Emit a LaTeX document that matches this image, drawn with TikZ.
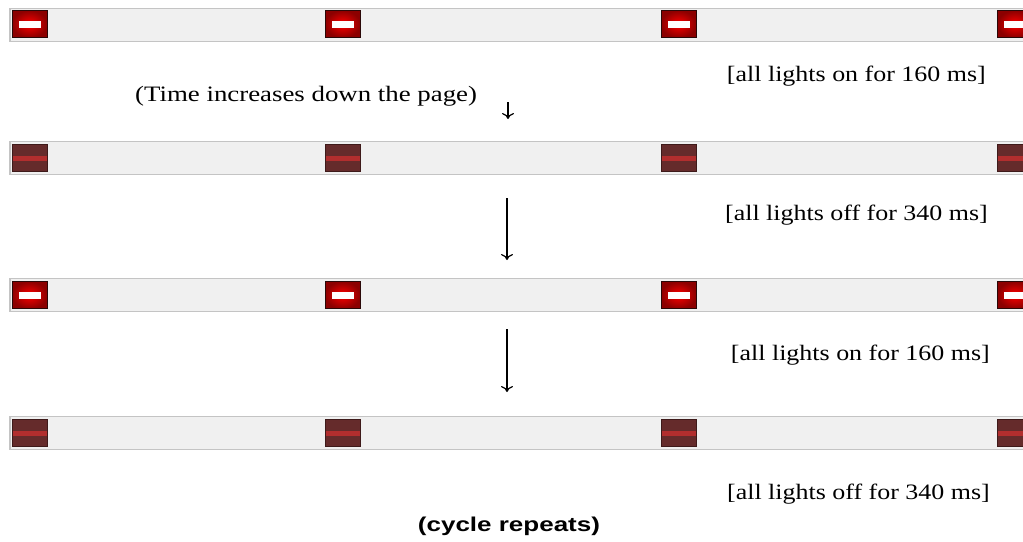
\documentclass[tikz,border=0pt]{standalone}
\usepackage{fontspec}
\setmainfont{Liberation Serif}
\setsansfont{Liberation Sans}
\usetikzlibrary{arrows.meta}
\definecolor{stripfill}{HTML}{F0F0F0}
\definecolor{stripedge}{HTML}{C4C4C4}
\definecolor{offfill}{HTML}{652B2B}
\definecolor{offedge}{HTML}{3E1A1A}
\definecolor{offline}{HTML}{B22E2E}
\definecolor{onedge}{HTML}{2A0808}
\newcommand{\wide}[2]{\scalebox{#1}[1]{#2}}
\tikzset{
  strip/.style={draw=stripedge, line width=1.2pt, fill=stripfill, minimum width=1040pt, minimum height=33pt, inner sep=0pt},
  lighton/.style={draw=onedge, line width=1pt, minimum width=35pt, minimum height=27pt, inner sep=0pt,
    inner color=red, outer color=red!55!black,
    path picture={\fill[white] (path picture bounding box.center) ++(-11pt,-3.5pt) rectangle ++(22pt,7pt);}},
  lightoff/.style={draw=offedge, line width=1pt, fill=offfill, minimum width=35pt, minimum height=27pt, inner sep=0pt,
    path picture={\fill[offline] (path picture bounding box.center) ++(-17.5pt,-2.5pt) rectangle ++(35pt,5pt);}},
  lbl/.style={font=\fontsize{22}{24}\selectfont, inner sep=0pt},
  timearrow/.style={line width=1.2pt, -{To[length=6pt,width=12pt]}}
}
\begin{document}
\begin{tikzpicture}[x=1pt,y=-1pt]
\useasboundingbox (0,0) rectangle (1023,541);
% strips
\node[strip] (s1) at (530,25) {};
\node[strip] (s2) at (530,158) {};
\node[strip] (s3) at (530,295) {};
\node[strip] (s4) at (530,433) {};
% row 1 (on)
\node[lighton] (a1) at (29.5,24) {};
\node[lighton] (a2) at (342.5,24) {};
\node[lighton] (a3) at (678.5,24) {};
\node[lighton] (a4) at (1015,24) {};
% row 2 (off)
\node[lightoff] (b1) at (29.5,158) {};
\node[lightoff] (b2) at (342.5,158) {};
\node[lightoff] (b3) at (678.5,158) {};
\node[lightoff] (b4) at (1015,158) {};
% row 3 (on)
\node[lighton] (c1) at (29.5,295) {};
\node[lighton] (c2) at (342.5,295) {};
\node[lighton] (c3) at (678.5,295) {};
\node[lighton] (c4) at (1015,295) {};
% row 4 (off)
\node[lightoff] (d1) at (29.5,433) {};
\node[lightoff] (d2) at (342.5,433) {};
\node[lightoff] (d3) at (678.5,433) {};
\node[lightoff] (d4) at (1015,433) {};
% labels
\node[lbl, anchor=west] (t0) at (135,96) {\wide{1.22}{(Time increases down the page)}};
\node[lbl, anchor=east] (t1) at (986,76) {\wide{1.18}{[all lights on for 160 ms]}};
\node[lbl, anchor=east] (t2) at (988,215) {\wide{1.18}{[all lights off for 340 ms]}};
\node[lbl, anchor=east] (t3) at (990,355) {\wide{1.18}{[all lights on for 160 ms]}};
\node[lbl, anchor=east] (t4) at (990,494) {\wide{1.18}{[all lights off for 340 ms]}};
\node[font=\sffamily\bfseries\fontsize{20}{22}\selectfont, inner sep=0pt] (t5) at (509,526) {\wide{1.3}{(cycle repeats)}};
% arrows
\coordinate (p1) at (508,102);
\coordinate (q1) at (508,119);
\coordinate (p2) at (507,198);
\coordinate (q2) at (507,260);
\coordinate (p3) at (507,329);
\coordinate (q3) at (507,392);
\draw[timearrow] (p1) -- (q1);
\draw[timearrow] (p2) -- (q2);
\draw[timearrow] (p3) -- (q3);
\end{tikzpicture}
\end{document}
